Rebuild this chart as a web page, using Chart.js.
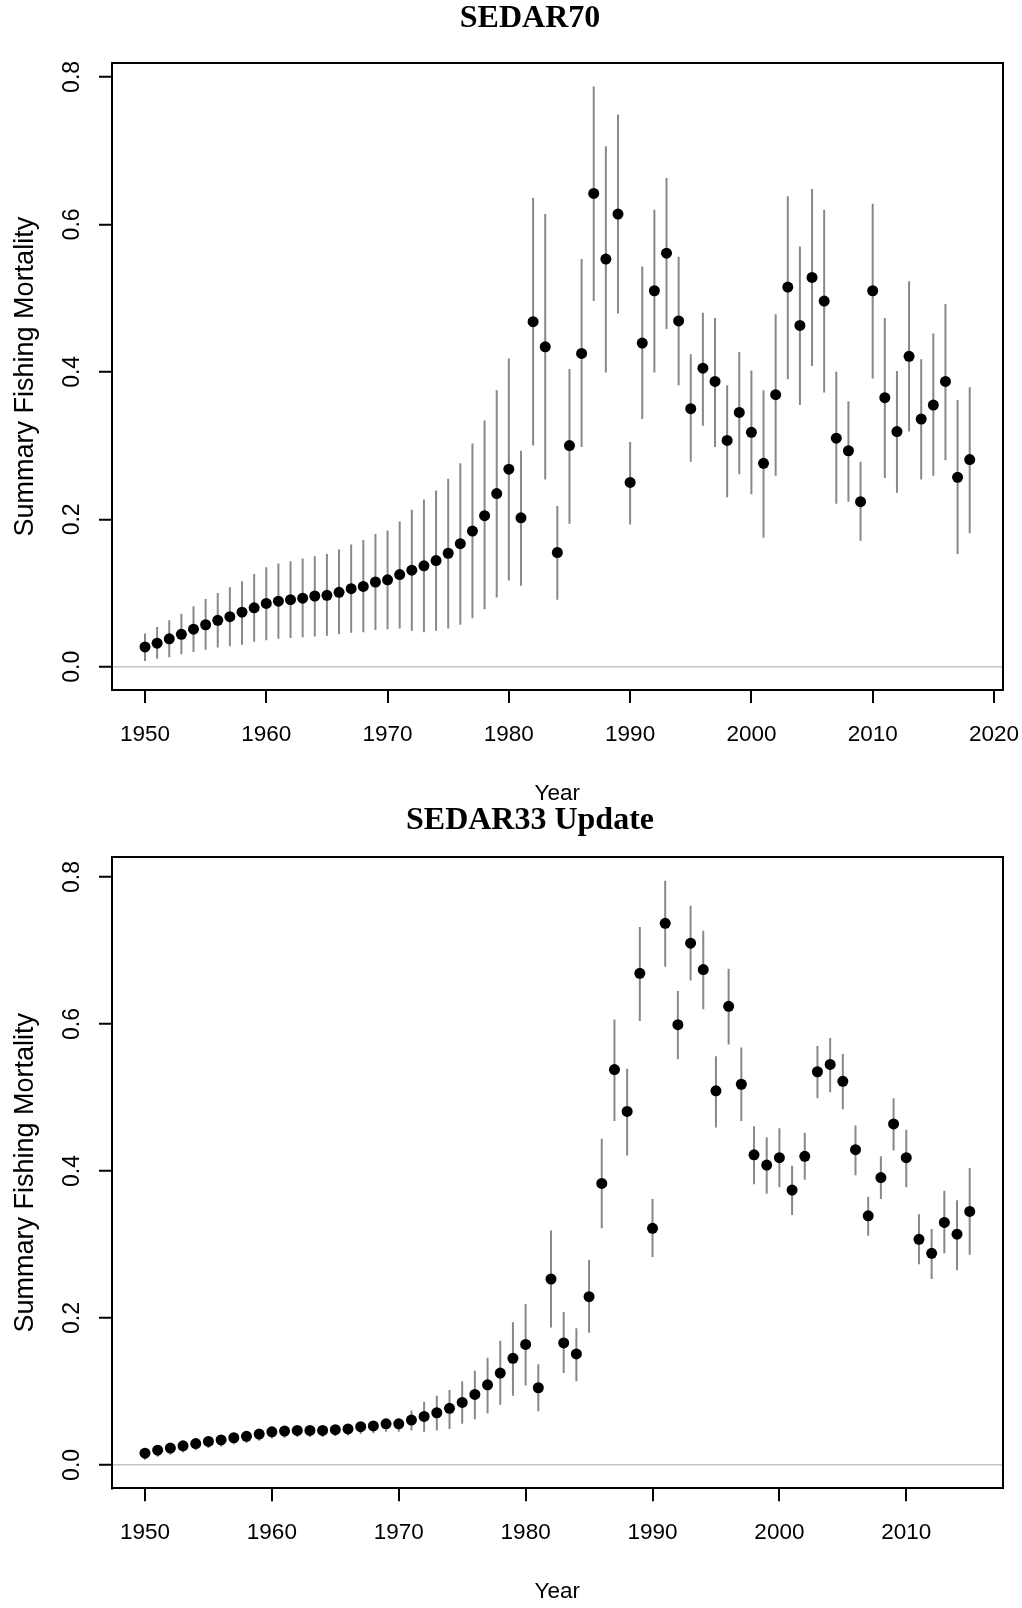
<!DOCTYPE html>
<html>
<head>
<meta charset="utf-8">
<script src="https://cdn.jsdelivr.net/npm/chart.js@4.4.1/dist/chart.umd.min.js"></script>
<style>
html, body { margin: 0; padding: 0; background: #ffffff; overflow: hidden; width: 1022px; height: 1608px; }
canvas { position: absolute; left: 0; }
#c1 { top: 0px; }
#c2 { top: 790px; }
</style>
</head>
<body>
<canvas id="c1" width="1060" height="820"></canvas>
<canvas id="c2" width="1060" height="830"></canvas>
<script>
// ---------- SEDAR70 ----------
const years70 = [1950,1951,1952,1953,1954,1955,1956,1957,1958,1959,
  1960,1961,1962,1963,1964,1965,1966,1967,1968,1969,
  1970,1971,1972,1973,1974,1975,1976,1977,1978,1979,
  1980,1981,1982,1983,1984,1985,1986,1987,1988,1989,
  1990,1991,1992,1993,1994,1995,1996,1997,1998,1999,
  2000,2001,2002,2003,2004,2005,2006,2007,2008,2009,
  2010,2011,2012,2013,2014,2015,2016,2017,2018];
const f70 = [0.027,0.032,0.038,0.044,0.051,0.057,0.063,0.068,0.074,0.080,
  0.086,0.089,0.091,0.093,0.096,0.097,0.101,0.106,0.109,0.115,
  0.118,0.125,0.131,0.137,0.144,0.154,0.167,0.184,0.205,0.235,
  0.268,0.202,0.468,0.434,0.155,0.300,0.425,0.642,0.553,0.614,
  0.250,0.439,0.510,0.561,0.469,0.350,0.405,0.387,0.307,0.345,
  0.318,0.276,0.369,0.515,0.463,0.528,0.496,0.310,0.293,0.224,
  0.510,0.365,0.319,0.421,0.336,0.355,0.387,0.257,0.281];
const lo70 = [0.008,0.011,0.013,0.017,0.020,0.023,0.026,0.028,0.030,0.034,
  0.036,0.038,0.039,0.040,0.041,0.042,0.044,0.046,0.047,0.050,
  0.051,0.052,0.049,0.047,0.049,0.052,0.057,0.066,0.078,0.094,
  0.117,0.110,0.300,0.254,0.091,0.194,0.298,0.496,0.399,0.479,
  0.193,0.336,0.399,0.458,0.382,0.278,0.327,0.298,0.230,0.261,
  0.234,0.175,0.259,0.390,0.355,0.408,0.372,0.221,0.224,0.171,
  0.391,0.256,0.236,0.319,0.254,0.259,0.280,0.153,0.181];
const hi70 = [0.045,0.054,0.063,0.072,0.082,0.092,0.100,0.108,0.116,0.126,
  0.135,0.140,0.143,0.147,0.150,0.153,0.159,0.166,0.172,0.180,
  0.185,0.197,0.213,0.227,0.239,0.255,0.276,0.303,0.334,0.375,
  0.418,0.293,0.636,0.614,0.218,0.404,0.553,0.787,0.706,0.749,
  0.305,0.543,0.620,0.663,0.556,0.424,0.480,0.473,0.382,0.427,
  0.402,0.375,0.478,0.638,0.570,0.648,0.620,0.400,0.360,0.278,
  0.628,0.473,0.401,0.523,0.417,0.452,0.492,0.362,0.379];
const xTicks70 = [1950,1960,1970,1980,1990,2000,2010,2020];

// ---------- SEDAR33 Update ----------
const years33 = [1950,1951,1952,1953,1954,1955,1956,1957,1958,1959,
  1960,1961,1962,1963,1964,1965,1966,1967,1968,1969,
  1970,1971,1972,1973,1974,1975,1976,1977,1978,1979,
  1980,1981,1982,1983,1984,1985,1986,1987,1988,1989,
  1990,1991,1992,1993,1994,1995,1996,1997,1998,1999,
  2000,2001,2002,2003,2004,2005,2006,2007,2008,2009,
  2010,2011,2012,2013,2014,2015];
const f33 = [0.016,0.020,0.023,0.026,0.029,0.032,0.034,0.037,0.039,0.042,
  0.045,0.046,0.047,0.047,0.047,0.048,0.049,0.052,0.053,0.056,
  0.056,0.061,0.066,0.071,0.077,0.085,0.096,0.109,0.125,0.145,
  0.164,0.105,0.253,0.166,0.151,0.229,0.383,0.538,0.481,0.669,
  0.322,0.737,0.599,0.710,0.674,0.509,0.624,0.518,0.422,0.408,
  0.418,0.374,0.420,0.535,0.545,0.522,0.429,0.339,0.391,0.464,
  0.418,0.307,0.288,0.330,0.314,0.345];
const lo33 = [0.007,0.011,0.014,0.017,0.020,0.023,0.025,0.028,0.030,0.033,
  0.036,0.037,0.038,0.038,0.038,0.039,0.040,0.042,0.043,0.045,
  0.045,0.047,0.045,0.047,0.049,0.056,0.062,0.070,0.082,0.094,
  0.108,0.073,0.187,0.125,0.114,0.180,0.322,0.468,0.421,0.604,
  0.283,0.678,0.552,0.659,0.620,0.459,0.572,0.468,0.382,0.369,
  0.378,0.340,0.388,0.499,0.507,0.484,0.394,0.312,0.362,0.428,
  0.378,0.273,0.253,0.288,0.265,0.286];
const hi33 = [0.020,0.024,0.027,0.030,0.033,0.036,0.038,0.041,0.043,0.046,
  0.049,0.050,0.051,0.051,0.051,0.052,0.053,0.056,0.058,0.062,
  0.063,0.074,0.086,0.094,0.102,0.114,0.128,0.146,0.169,0.194,
  0.219,0.137,0.319,0.208,0.186,0.279,0.444,0.606,0.539,0.732,
  0.362,0.795,0.645,0.761,0.727,0.556,0.675,0.568,0.461,0.446,
  0.458,0.407,0.452,0.570,0.581,0.559,0.462,0.365,0.420,0.499,
  0.456,0.341,0.321,0.373,0.360,0.404];
const xTicks33 = [1950,1960,1970,1980,1990,2000,2010];

const yTicks = [0.0, 0.2, 0.4, 0.6, 0.8];
const xLabel = 'Year';
const yLabel = 'Summary Fishing Mortality';

Chart.defaults.font.family = "'Liberation Sans', Arial, Helvetica, sans-serif";
Chart.defaults.color = '#000';

function fixSize(w, h) {
  return function (s) {
    if (w !== null) s.width = w;
    if (h !== null) s.height = h;
    s.paddingLeft = 0; s.paddingRight = 0; s.paddingTop = 0; s.paddingBottom = 0;
  };
}

function buildChart(id, title, years, est, lo, hi, xTicks, g) {
  const x0 = years[0], x1 = years[years.length - 1];
  const xPad = (x1 - x0) * 0.04;
  const yTop = Math.max.apply(null, hi);
  const yPad = yTop * 0.04;
  const boxBorder = { display: true, color: '#000', width: 2 };
  return new Chart(document.getElementById(id), {
    type: 'scatter',
    data: {
      datasets: [
        {
          type: 'scatter',
          data: years.map((x, i) => ({ x: x, y: est[i] })),
          xAxisID: 'x', yAxisID: 'y', order: 0,
          pointRadius: 5.5, pointHoverRadius: 5.5,
          pointBackgroundColor: '#000', pointBorderWidth: 0, showLine: false
        },
        {
          type: 'bar',
          data: years.map((x, i) => ({ x: x, y: [lo[i], hi[i]] })),
          xAxisID: 'x', yAxisID: 'y', order: 1,
          backgroundColor: '#888888', borderWidth: 0,
          barThickness: 2, grouped: false, inflateAmount: 0
        }
      ]
    },
    options: {
      responsive: false, animation: false, devicePixelRatio: 1, events: [],
      layout: { autoPadding: false, padding: { left: 0, right: 0, top: g.padTop, bottom: g.padBottom } },
      plugins: {
        legend: { display: false },
        tooltip: { enabled: false },
        title: {
          display: true, text: title, color: '#000',
          font: { family: "'Liberation Serif', 'Times New Roman', serif", size: 32, weight: 'bold', lineHeight: 1.2 },
          padding: { top: 0, bottom: g.titleGap }
        }
      },
      scales: {
        x: {
          type: 'linear', position: 'bottom', axis: 'x',
          min: x0 - xPad, max: x1 + xPad, offset: false,
          afterBuildTicks: s => { s.ticks = xTicks.map(v => ({ value: v })); },
          afterFit: fixSize(null, 120),
          ticks: { font: { size: 22.5 }, color: '#000', padding: 18, minRotation: 0, maxRotation: 0, autoSkip: false,
                   callback: v => String(v) },
          grid: { offset: false, drawOnChartArea: false, drawTicks: true, tickLength: 13,
                  tickColor: '#000', tickWidth: 2, color: '#000', lineWidth: 2 },
          border: boxBorder,
          title: { display: true, text: xLabel, color: '#000', font: { size: 22.5 }, padding: { top: 0, bottom: g.xTitlePad } }
        },
        y: {
          type: 'linear', position: 'left', axis: 'y',
          min: -yPad, max: yTop + yPad, beginAtZero: false,
          afterBuildTicks: s => { s.ticks = yTicks.map(v => ({ value: v })); },
          afterFit: fixSize(112, null),
          ticks: { font: { size: 23 }, color: '#000', padding: 10, minRotation: 90, maxRotation: 90,
                   crossAlign: 'center', autoSkip: false, callback: v => Number(v).toFixed(1) },
          grid: { drawOnChartArea: true, drawTicks: true, tickLength: 13, tickColor: '#000', tickWidth: 2,
                  lineWidth: 1.5,
                  color: c => (c.tick && c.tick.value === 0) ? '#c4c4c4' : 'rgba(0,0,0,0)' },
          border: boxBorder,
          title: { display: true, text: yLabel, color: '#000', font: { size: 27 }, padding: { top: 9, bottom: 0 } }
        },
        y2: {
          type: 'linear', position: 'right', axis: 'y', min: 0, max: 1,
          afterFit: fixSize(57.3, null),
          ticks: { display: false },
          grid: { display: true, drawOnChartArea: false, drawTicks: false },
          border: boxBorder
        },
        x2: {
          type: 'linear', position: 'top', axis: 'x', min: 0, max: 1,
          afterFit: fixSize(null, 0),
          ticks: { display: false },
          grid: { display: true, drawOnChartArea: false, drawTicks: false },
          border: boxBorder
        }
      }
    }
  });
}

buildChart('c1', 'SEDAR70', years70, f70, lo70, hi70, xTicks70,
  { padTop: 0, titleGap: 24.9, padBottom: 10, xTitlePad: 2.4 });
buildChart('c2', 'SEDAR33 Update', years33, f33, lo33, hi33, xTicks33,
  { padTop: 11.7, titleGap: 17.2, padBottom: 11.7, xTitlePad: 2.7 });
</script>
</body>
</html>
